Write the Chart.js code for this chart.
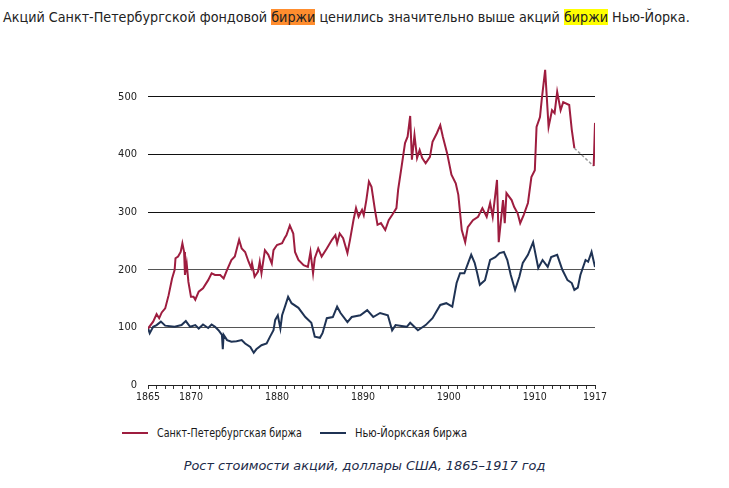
<!DOCTYPE html>
<html lang="ru">
<head>
<meta charset="utf-8">
<title>Акции Санкт-Петербургской и Нью-Йоркской бирж</title>
<script src="https://cdn.jsdelivr.net/npm/chart.js@4.4.1/dist/chart.umd.min.js"></script>
<style>
  body { margin: 0; width: 729px; height: 488px; background: #fff; position: relative; overflow: hidden; }
  #intro { position: absolute; left: 3px; top: 7px; white-space: nowrap; font-family: "DejaVu Sans Condensed", "DejaVu Sans", sans-serif; font-size: 13px; line-height: 20px; color: #222; }
  #intro .hl1 { background: #ff8d2e; }
  #intro .hl2 { background: #ffff00; }
  #wrap { position: absolute; left: 100px; top: 40px; width: 510px; height: 370px; }
  #legend { position: absolute; top: 425px; left: 0; width: 729px; height: 16px; font-family: "DejaVu Sans Condensed", sans-serif; font-size: 12.5px; color: #1a1a1a; }
  #legend .item { position: absolute; top: 0; white-space: nowrap; line-height: 16px; transform-origin: 0 50%; }
  #legend .swatch { position: absolute; top: 7px; height: 2px; width: 26px; }
  #caption { position: absolute; top: 458px; left: 0; width: 729px; text-align: center; font-family: "DejaVu Sans", sans-serif; font-style: italic; font-size: 12px; color: #1c2a48; white-space: nowrap; }
  #caption span { display: inline-block; }
</style>
</head>
<body>
<div id="intro"><span id="introText">Акций Санкт-Петербургской фондовой <span class="hl1">биржи</span> ценились значительно выше акций <span class="hl2">биржи</span> Нью-Йорка.</span></div>
<div id="wrap"><canvas id="chart"></canvas></div>
<div id="legend">
  <div class="swatch" style="left:122px;background:#9e1d3f"></div>
  <div class="item" id="leg1" style="left:157px">Санкт-Петербургская биржа</div>
  <div class="swatch" style="left:320px;background:#1f3354"></div>
  <div class="item" id="leg2" style="left:355px">Нью-Йоркская биржа</div>
</div>
<div id="caption"><span id="capText">Рост стоимости акций, доллары США, 1865–1917 год</span></div>
<script>
// data
const spbYears = [1865.0, 1865.6, 1866.0, 1866.3, 1866.6, 1867.0, 1867.4, 1867.8, 1868.1, 1868.2, 1868.5, 1868.8, 1869.0, 1869.2, 1869.3, 1869.5, 1869.7,
  1870.0, 1870.3, 1870.5, 1870.9, 1871.4, 1872.0, 1872.4, 1872.8, 1873.4, 1873.8, 1874.2, 1874.7, 1875.1, 1875.6, 1875.9, 1876.3, 1876.7, 1877.0,
  1877.1, 1877.4, 1877.8, 1878.0, 1878.2, 1878.6, 1879.0, 1879.4, 1879.6, 1880.0, 1880.6, 1880.9, 1881.1, 1881.5, 1881.9, 1882.1, 1882.5, 1883.1,
  1883.6, 1883.9, 1884.2, 1884.4, 1884.8, 1885.2, 1885.8, 1886.4, 1886.8, 1887.0, 1887.3, 1887.7, 1888.2, 1888.5, 1888.9, 1889.2, 1889.5, 1889.9,
  1890.1, 1890.4, 1890.7, 1891.0, 1891.4, 1891.7, 1892.1, 1892.6, 1893.0, 1893.4, 1893.9, 1894.1, 1894.5, 1894.9, 1895.2, 1895.5, 1895.7, 1896.0,
  1896.3, 1896.6, 1896.9, 1897.3, 1897.8, 1898.1, 1898.6, 1899.0, 1899.3, 1899.8, 1900.3, 1900.8, 1901.1, 1901.5, 1901.9, 1902.2, 1902.8, 1903.4,
  1903.9, 1904.4, 1904.8, 1905.1, 1905.6, 1905.8, 1906.3, 1906.5, 1906.7, 1907.3, 1907.6, 1908.0, 1908.3, 1908.7, 1909.2, 1909.6, 1910.0, 1910.2,
  1910.6, 1910.8, 1911.2, 1911.6, 1912.0, 1912.3, 1912.6, 1913.0, 1913.3, 1914.0, 1914.3, 1914.6, 1915.7, 1916.85, 1917.0];
const spbValues = [98, 110, 123, 116, 126, 133, 156, 185, 200, 220, 223, 231, 246, 231, 191, 211, 179,
  153, 153, 148, 162, 168, 182, 194, 191, 191, 185, 200, 217, 223, 252, 237, 231, 214, 203,
  211, 188, 197, 214, 194, 234, 226, 211, 234, 243, 246, 255, 260, 277, 263, 231, 217, 208,
  205, 231, 194, 220, 237, 223, 237, 252, 260, 246, 263, 255, 229, 252, 286, 307, 292, 304,
  295, 321, 353, 344, 304, 278, 281, 269, 286, 295, 307, 339, 379, 420, 431, 467, 391, 434,
  394, 408, 394, 385, 396, 422, 437, 451, 431, 402, 365, 350, 330, 269, 248, 274, 286, 292,
  307, 292, 316, 292, 356, 248, 321, 281, 333, 321, 309, 298, 281, 295, 316, 361, 373, 448,
  465, 495, 547, 448, 477, 472, 509, 477, 491, 486, 443, 411, null, 380, 455];

const nyYears = [1865.0, 1865.2, 1865.6, 1866.0, 1866.5, 1867.0, 1868.1, 1868.9, 1869.4, 1869.9, 1870.5, 1870.9, 1871.4, 1872.0, 1872.4, 1872.8,
  1873.2, 1873.6, 1873.7, 1873.8, 1874.2, 1874.7, 1875.3, 1875.9, 1876.3, 1876.9, 1877.3, 1877.6, 1878.2, 1878.8, 1879.2, 1879.6, 1879.8, 1880.1,
  1880.4, 1880.6, 1881.0, 1881.3, 1881.7, 1882.5, 1883.3, 1884.0, 1884.4, 1885.0, 1885.3, 1885.8, 1886.5, 1887.0, 1887.4, 1888.2, 1888.7, 1889.7,
  1890.5, 1891.2, 1892.0, 1892.9, 1893.4, 1893.8, 1895.1, 1895.5, 1896.4, 1897.3, 1898.1, 1899.0, 1899.7, 1900.4, 1900.9, 1901.3, 1901.8, 1902.3,
  1902.6, 1903.0, 1903.3, 1903.6, 1904.2, 1904.8, 1905.4, 1905.9, 1906.4, 1906.8, 1907.2, 1907.7, 1908.2, 1908.6, 1909.2, 1909.8, 1910.4, 1910.9,
  1911.5, 1911.9, 1912.6, 1913.2, 1913.8, 1914.3, 1914.6, 1915.0, 1915.3, 1915.9, 1916.2, 1916.6, 1917.0];
const nyValues = [99, 90, 101, 104, 110, 103, 101, 104, 111, 101, 104, 98, 105, 99, 105, 101,
  95, 87, 62, 87, 78, 75, 76, 78, 72, 66, 56, 62, 69, 72, 84, 95, 113, 121,
  98, 121, 139, 153, 142, 134, 118, 108, 84, 82, 90, 116, 118, 136, 125, 109, 118, 121,
  130, 118, 125, 121, 95, 104, 101, 108, 95, 104, 116, 139, 142, 136, 177, 194, 194, 214,
  226, 212, 194, 174, 182, 217, 222, 229, 231, 217, 191, 165, 188, 212, 226, 248, 203, 217,
  205, 222, 226, 200, 182, 177, 165, 169, 191, 217, 214, 231, 205];

// dashed gray stretch with no St Petersburg quotes
const gapYears = [1914.6, 1916.85];
const gapValues = [411, 380];

const labelYears = [1865, 1870, 1880, 1890, 1900, 1910, 1917];
const yTicks = [0, 100, 200, 300, 400, 500];

const toPoints = (xs, ys) => xs.map((x, i) => ({ x: x, y: ys[i] }));
const tickFont = { family: '"Liberation Sans Narrow", "DejaVu Sans Condensed", sans-serif', size: 11 };

new Chart(document.getElementById('chart'), {
  type: 'line',
  data: {
    datasets: [
      { label: 'Санкт-Петербургская биржа', data: toPoints(spbYears, spbValues), borderColor: '#9e1d3f', borderWidth: 2, pointRadius: 0, spanGaps: false, tension: 0 },
      { label: 'Нью-Йоркская биржа', data: toPoints(nyYears, nyValues), borderColor: '#1f3354', borderWidth: 2, pointRadius: 0, tension: 0 },
      { label: 'нет данных', data: toPoints(gapYears, gapValues), borderColor: '#9a9a9a', borderWidth: 1.5, borderDash: [3, 2], pointRadius: 0 }
    ]
  },
  options: {
    responsive: true,
    maintainAspectRatio: false,
    animation: false,
    layout: { padding: { top: 22.4, right: 15, left: 0, bottom: 0 } },
    plugins: { legend: { display: false }, tooltip: { enabled: false } },
    scales: {
      x: {
        type: 'linear',
        min: 1865,
        max: 1917,
        afterBuildTicks: (scale) => {
          const t = [];
          for (let y = 1865; y <= 1917; y++) t.push({ value: y });
          scale.ticks = t;
        },
        afterFit: (scale) => { scale.height = 25; },
        ticks: {
          autoSkip: false,
          maxRotation: 0,
          padding: 2,
          color: '#222',
          font: { family: tickFont.family, size: 10.5 },
          callback: (v) => labelYears.includes(v) ? String(v) : ''
        },
        grid: { drawOnChartArea: false, drawTicks: true, tickLength: 4, color: '#333', lineWidth: 1 },
        border: { display: true, color: '#222', width: 1 }
      },
      y: {
        min: 0,
        max: 560,
        afterBuildTicks: (scale) => { scale.ticks = yTicks.map(v => ({ value: v })); },
        afterFit: (scale) => { scale.width = 48; },
        ticks: { padding: 11, color: '#222', font: tickFont },
        grid: {
          drawTicks: false,
          lineWidth: 1,
          color: (c) => c.tick.value === 0 ? 'rgba(0,0,0,0)' : (c.tick.value <= 200 ? '#555' : '#111')
        },
        border: { display: false }
      }
    }
  }
});

// stretch the html texts to the widths seen in the picture
function fitWidth(id, target) {
  const el = document.getElementById(id);
  const w = el.getBoundingClientRect().width;
  const fs = parseFloat(getComputedStyle(el).fontSize);
  el.style.fontSize = (fs * target / w).toFixed(2) + 'px';
}
function squeeze(id, target) {
  const el = document.getElementById(id);
  const w = el.getBoundingClientRect().width;
  el.style.transform = 'scaleX(' + (target / w).toFixed(3) + ')';
}
fitWidth('introText', 687);
squeeze('leg1', 145);
squeeze('leg2', 112);
fitWidth('capText', 362);
</script>
</body>
</html>
